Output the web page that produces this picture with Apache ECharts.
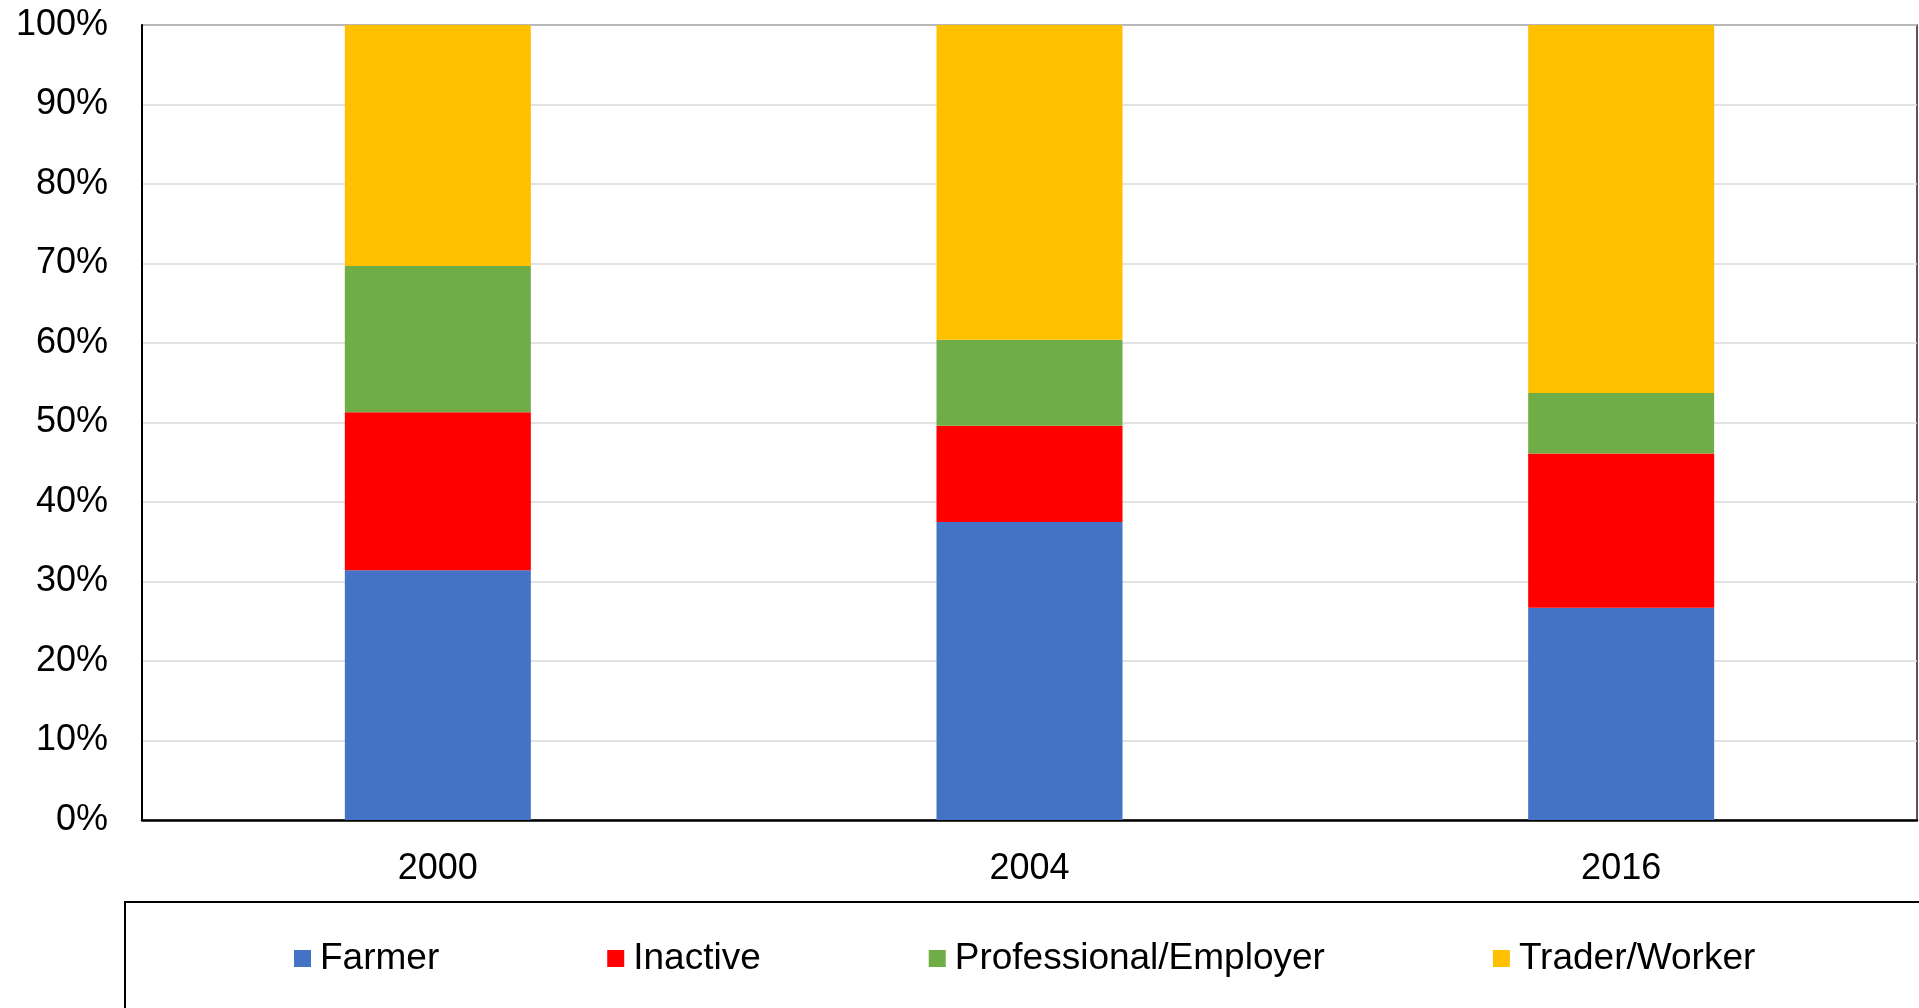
<!DOCTYPE html>
<html>
<head>
<meta charset="utf-8">
<script src="https://cdn.jsdelivr.net/npm/echarts@6/dist/echarts.min.js"></script>
<style>
html,body{margin:0;padding:0;background:#fff;}
#chart{width:1919px;height:1008px;}
</style>
</head>
<body>
<div id="chart"></div>
<script>
const categories = ['2000', '2004', '2016'];
const seriesNames = ['Farmer', 'Inactive', 'Professional/Employer', 'Trader/Worker'];
const farmer = [31.4, 37.5, 26.7];
const inactive = [19.9, 12.1, 19.4];
const professional = [18.4, 10.8, 7.6];
const trader = [30.3, 39.6, 46.3];
const yTicks = [0, 10, 20, 30, 40, 50, 60, 70, 80, 90, 100];
const colors = ['#4472C4', '#FF0000', '#70AD47', '#FFC000'];

const values = [farmer, inactive, professional, trader];
const FONT = 'Liberation Sans, Arial, sans-serif';

const chart = echarts.init(document.getElementById('chart'));
chart.setOption({
  animation: false,
  backgroundColor: '#fff',
  grid: {
    left: 142, right: 2, top: 25, bottom: 188,
    show: true, borderColor: '#222', borderWidth: 1.5, backgroundColor: 'transparent'
  },
  legend: {
    data: seriesNames,
    left: 289,
    top: 935,
    icon: 'rect',
    itemWidth: 17,
    itemHeight: 17,
    itemGap: 168,
    textStyle: { fontSize: 37, color: '#000', fontFamily: FONT, padding: [0, 0, 0, 4] }
  },
  graphic: [{
    type: 'rect',
    shape: { x: 125, y: 902, width: 1800, height: 200 },
    style: { fill: 'none', stroke: '#000', lineWidth: 2 },
    silent: true
  }],
  xAxis: {
    type: 'category',
    data: categories,
    axisLine: { show: true, lineStyle: { color: '#000', width: 2.5 } },
    axisTick: { show: false },
    axisLabel: { fontSize: 36, color: '#000', fontFamily: FONT, margin: 31 }
  },
  yAxis: {
    type: 'value',
    min: yTicks[0],
    max: yTicks[yTicks.length - 1],
    interval: 10,
    axisLine: { show: true, lineStyle: { color: '#000', width: 2 } },
    axisTick: { show: false },
    splitLine: { show: true, lineStyle: { color: '#D9D9D9', width: 1.5 } },
    axisLabel: { fontSize: 36, color: '#000', fontFamily: FONT, margin: 34, formatter: '{value}%' }
  },
  series: seriesNames.map((name, i) => ({
    name: name,
    type: 'bar',
    stack: 'total',
    barWidth: 186,
    data: values[i],
    itemStyle: { color: colors[i] }
  }))
});
</script>
</body>
</html>
